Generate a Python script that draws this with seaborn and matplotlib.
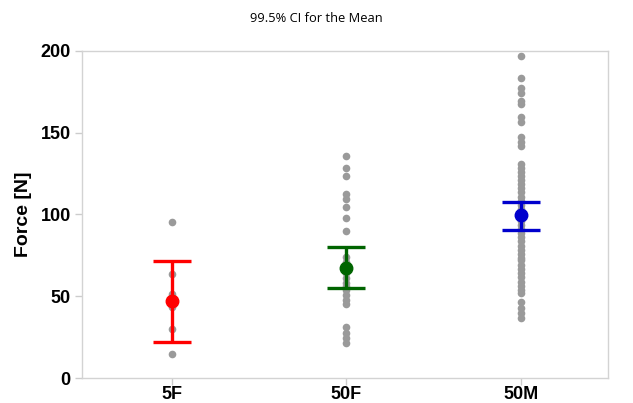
import matplotlib
matplotlib.use("Agg")
import matplotlib.pyplot as plt
import seaborn as sns
import pandas as pd

categories = ["5F", "50F", "50M"]
force_5f = [95.2, 63.6, 51.4, 43.4, 29.8, 14.7]
force_50f = [136, 128.2, 123.5, 112.3, 109.3, 104.4, 98, 90.1, 74, 71, 70, 64, 61, 58,
             56, 53.8, 50.8, 47.7, 45.3, 31, 27.7, 24.3, 21.6]
force_50m = [197.1, 183.3, 177.6, 174.6, 169.4, 167.6, 159.4, 156.8, 147.2, 144.5, 141.9,
             131, 128.5, 126, 123.5, 121, 118.5, 116, 113.5, 111, 108.5, 106, 103.5, 101,
             98.5, 96, 93.5, 91, 88.5, 86, 83.5, 81, 78.5, 76, 73.5, 72,
             69, 66.5, 64, 61.5, 59, 56.5, 54, 52,
             46.7, 43, 39.6, 36.5]
means = [47.1, 67.5, 99.7]
ci_low = [21.8, 55.2, 90.5]
ci_high = [71.4, 80.1, 107.5]
ci_colors = ["#ff0000", "#006400", "#0000cd"]

df = pd.DataFrame({
    "group": ["5F"] * len(force_5f) + ["50F"] * len(force_50f) + ["50M"] * len(force_50m),
    "force": force_5f + force_50f + force_50m,
})

sns.set_style("white")
plt.rcParams["font.family"] = ["Liberation Sans", "DejaVu Sans"]
plt.rcParams["text.color"] = "black"

fig = plt.figure(figsize=(6.33, 4.03), dpi=100)
ax = fig.add_axes([0.1295, 0.062, 0.831, 0.8115])

sns.stripplot(data=df, x="group", y="force", order=categories, jitter=False,
              color="#9a9a9a", size=5.5, linewidth=0, ax=ax, zorder=2)

for i, cat in enumerate(categories):
    ax.errorbar(i, means[i],
                yerr=[[means[i] - ci_low[i]], [ci_high[i] - means[i]]],
                fmt="o", color=ci_colors[i], markersize=9, elinewidth=2.4,
                capsize=13.5, capthick=2.4, zorder=3)

ax.set_xlim(-0.515, 2.5)
ax.set_ylim(0, 200)
ax.set_yticks([0, 50, 100, 150, 200])
ax.set_xlabel("")
ax.set_ylabel("Force [N]", fontsize=14, fontweight="bold", labelpad=6, color="black")
for lab in ax.get_xticklabels() + ax.get_yticklabels():
    lab.set_fontweight("bold")
    lab.set_fontsize(13)
    lab.set_color("black")
ax.tick_params(axis="both", length=5, width=1, color="#cccccc", direction="out",
               left=True, bottom=True, labelcolor="black")
ax.tick_params(axis="x", pad=1)
ax.tick_params(axis="y", pad=3)
for sp in ax.spines.values():
    sp.set_color("#d3d3d3")
    sp.set_linewidth(1)

fig.text(0.5, 0.955, "99.5% CI for the Mean", ha="center", va="center",
         fontsize=9.3, color="black", family=["Open Sans", "DejaVu Sans"])

fig.savefig("out.png", dpi=100)
